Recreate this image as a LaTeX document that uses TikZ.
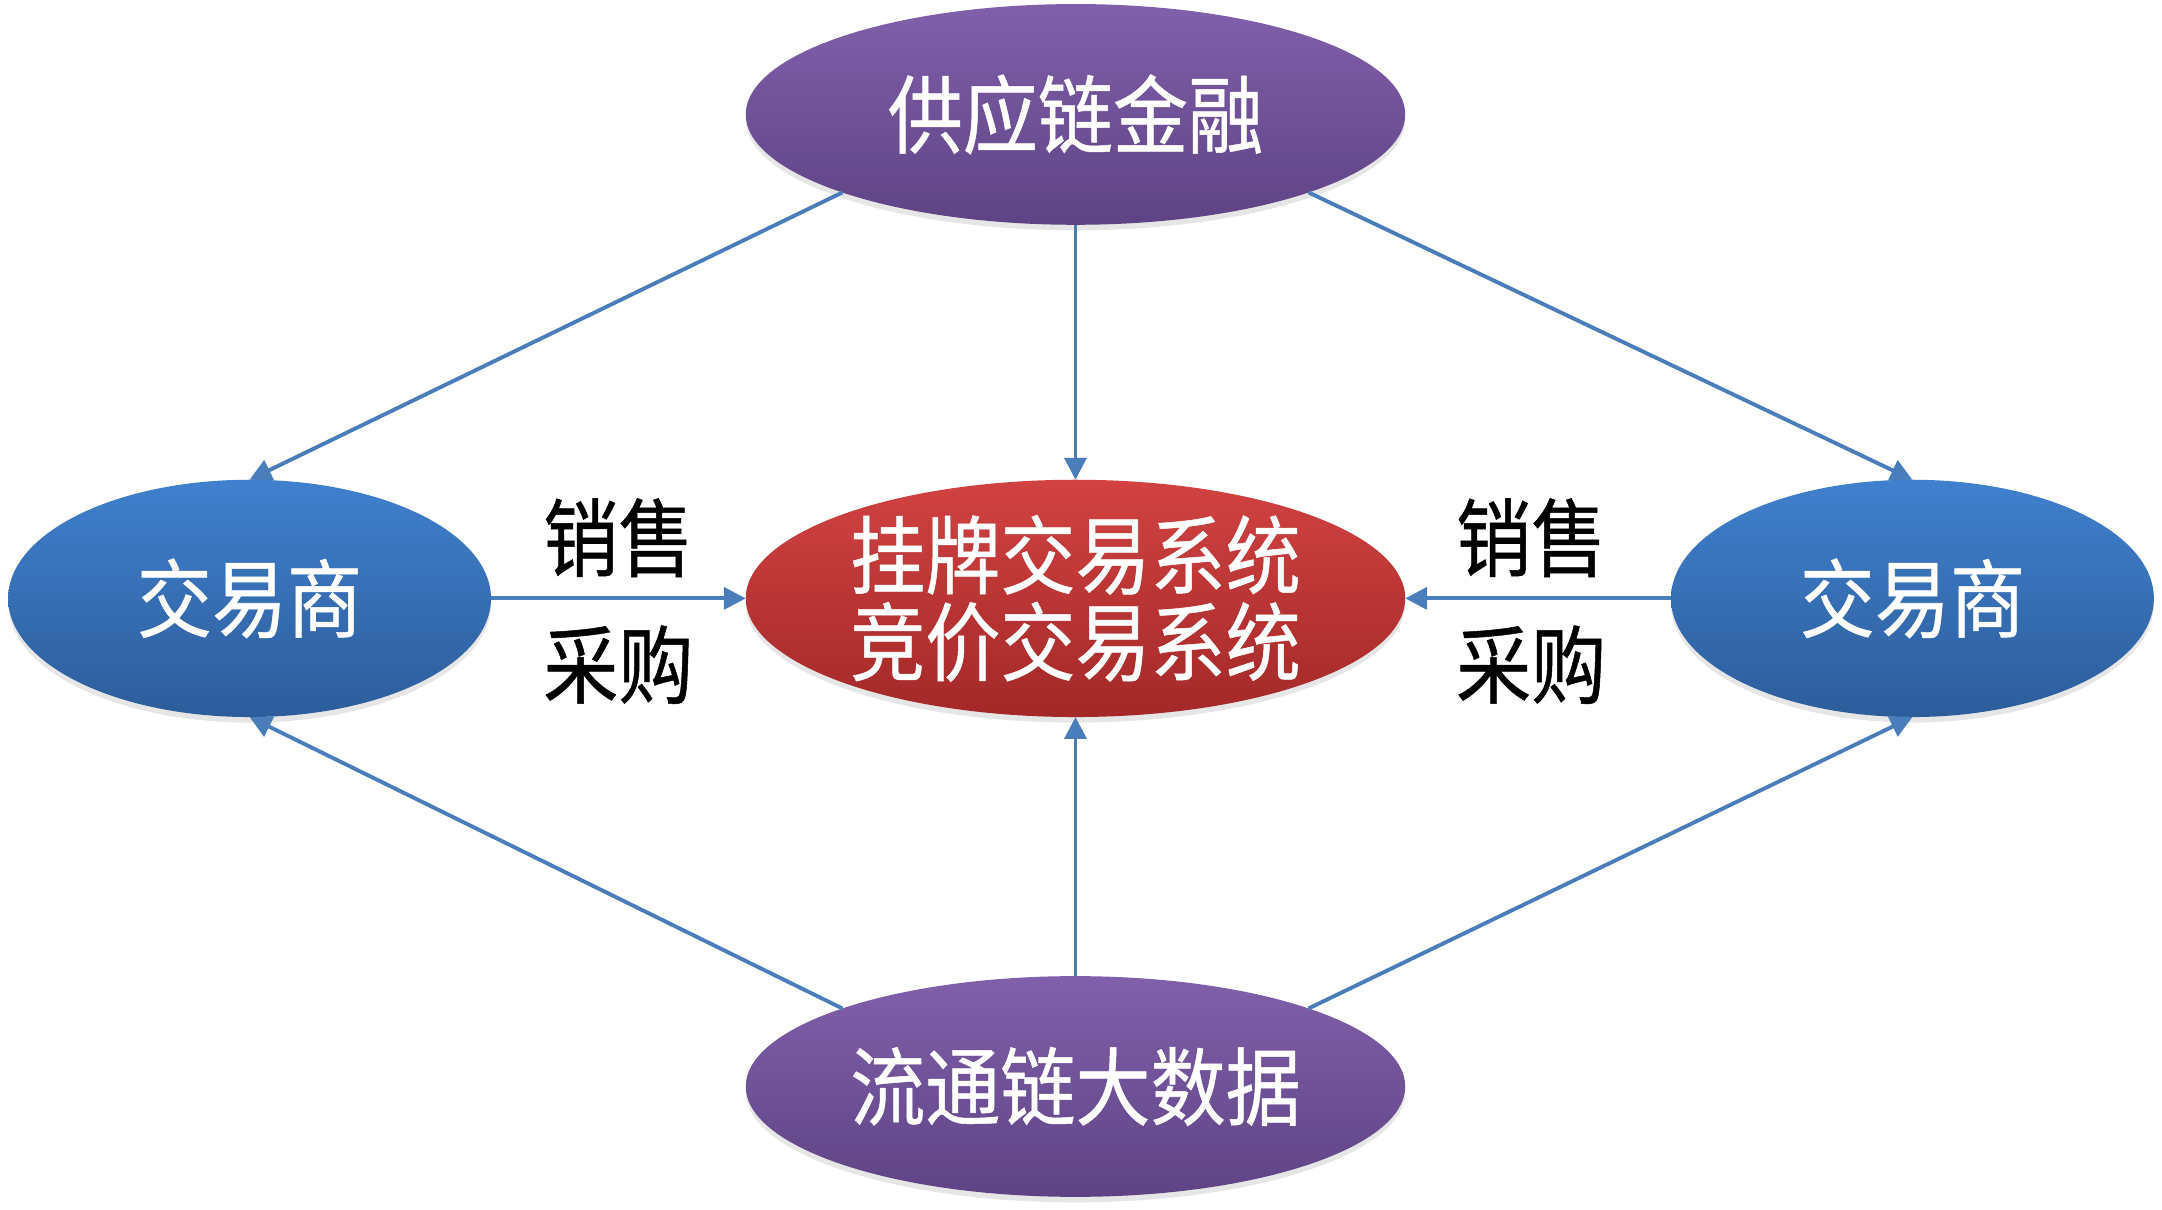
\documentclass[tikz,border=0pt]{standalone}
\usepackage{fontspec}
\newfontfamily\cjk{Noto Sans CJK SC}[FakeStretch=0.88, FakeBold=0.6]
\usetikzlibrary{arrows.meta,shapes.geometric,shadows}
\begin{document}
\begin{tikzpicture}[x=0.01cm, y=-0.01cm,
    bubble/.style={ellipse, inner sep=0pt, outer sep=0pt, text=white, align=center,
      font=\cjk\fontsize{17.6pt}{17.9pt}\selectfont,
      drop shadow={shadow xshift=0pt, shadow yshift=-0.04cm, opacity=0.2}},
    link/.style={draw=my-line, line width=0.8pt, -{Triangle[length=4.5pt,width=4.5pt]}},
    tag/.style={font=\cjk\fontsize{17.6pt}{17.9pt}\selectfont, inner sep=0pt}]
    \definecolor{my-line}{RGB}{74,126,187}
    \definecolor{my-purple-t}{RGB}{129,96,171}
    \definecolor{my-purple-b}{RGB}{94,67,132}
    \definecolor{my-blue-t}{RGB}{64,128,206}
    \definecolor{my-blue-b}{RGB}{44,93,154}
    \definecolor{my-red-t}{RGB}{210,66,66}
    \definecolor{my-red-b}{RGB}{163,40,40}
    \useasboundingbox (0,0) rectangle (1568,877);
    \node[bubble, top color=my-purple-t, bottom color=my-purple-b, minimum width=4.78cm, minimum height=1.6cm] (fin) at (780,83) {供应链金融};
    \node[bubble, top color=my-blue-t, bottom color=my-blue-b, minimum width=3.5cm, minimum height=1.72cm] (trdL) at (181,434) {交易商};
    \node[bubble, top color=my-red-t, bottom color=my-red-b, minimum width=4.78cm, minimum height=1.72cm] (sys) at (780,434) {挂牌交易系统\\竞价交易系统};
    \node[bubble, top color=my-blue-t, bottom color=my-blue-b, minimum width=3.5cm, minimum height=1.72cm] (trdR) at (1387,434) {交易商};
    \node[bubble, top color=my-purple-t, bottom color=my-purple-b, minimum width=4.78cm, minimum height=1.6cm] (data) at (780,788) {流通链大数据};
    \draw[link] (fin.south west) -- (trdL.north);
    \draw[link] (fin.south) -- (sys.north);
    \draw[link] (fin.south east) -- (trdR.north);
    \draw[link] (trdL.east) -- node[tag, yshift=0.44cm] (sellL) {销售} node[tag, yshift=-0.48cm] (buyL) {采购} (sys.west);
    \draw[link] (trdR.west) -- node[tag, xshift=-0.05cm, yshift=0.44cm] (sellR) {销售} node[tag, xshift=-0.05cm, yshift=-0.48cm] (buyR) {采购} (sys.east);
    \draw[link] (data.north west) -- (trdL.south);
    \draw[link] (data.north) -- (sys.south);
    \draw[link] (data.north east) -- (trdR.south);
\end{tikzpicture}
\end{document}
